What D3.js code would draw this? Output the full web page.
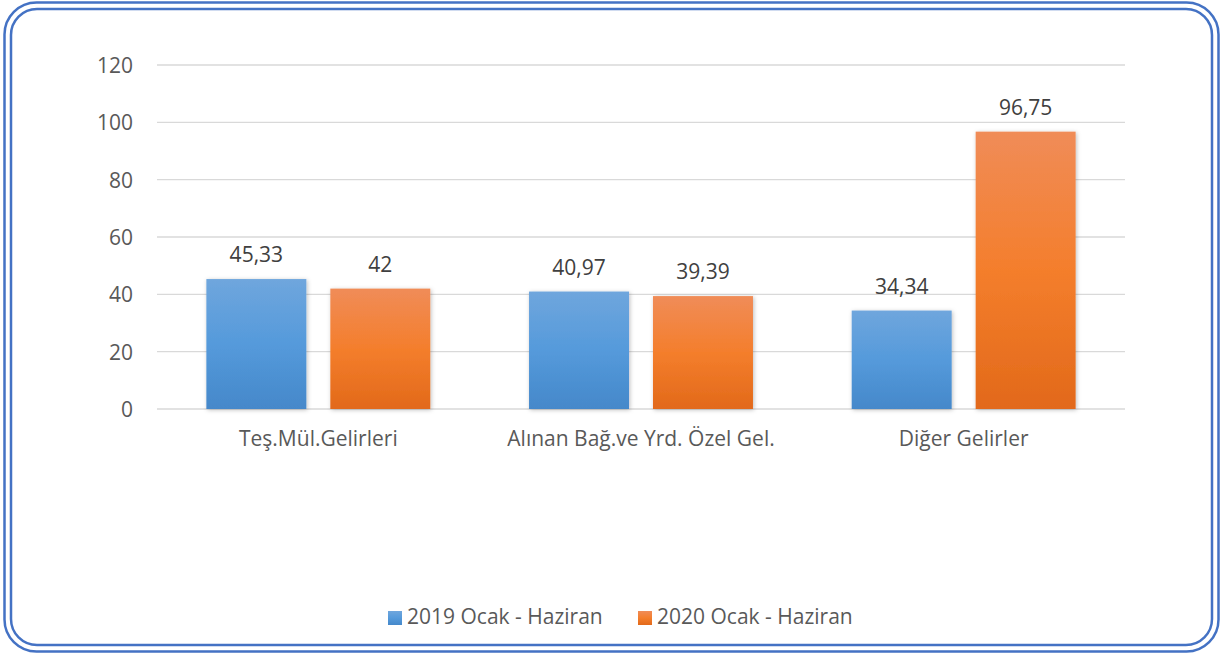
<!DOCTYPE html>
<html><head><meta charset="utf-8">
<script src="https://cdn.jsdelivr.net/npm/d3@7"></script>
<style>body{margin:0;background:#fff;}svg{display:block;}</style>
</head><body>
<svg id="c" width="1223" height="655" font-family="'Open Sans', sans-serif"></svg>
<script>
const categories = ["Teş.Mül.Gelirleri", "Alınan Bağ.ve Yrd. Özel Gel.", "Diğer Gelirler"];
const seriesNames = ["2019 Ocak - Haziran", "2020 Ocak - Haziran"];
const values2019 = [45.33, 40.97, 34.34];
const values2020 = [42, 39.39, 96.75];
const labels2019 = ["45,33", "40,97", "34,34"];
const labels2020 = ["42", "39,39", "96,75"];
const yTicks = [0, 20, 40, 60, 80, 100, 120];

const FONT = "'Open Sans', sans-serif";
const FS = 21;
const svg = d3.select("#c");
const defs = svg.append("defs");
const gradB = defs.append("linearGradient").attr("id","gB").attr("x1",0).attr("y1",0).attr("x2",0).attr("y2",1);
gradB.append("stop").attr("offset","0%").attr("stop-color","#6FA6DD");
gradB.append("stop").attr("offset","50%").attr("stop-color","#559ADB");
gradB.append("stop").attr("offset","100%").attr("stop-color","#4588CA");
const gradO = defs.append("linearGradient").attr("id","gO").attr("x1",0).attr("y1",0).attr("x2",0).attr("y2",1);
gradO.append("stop").attr("offset","0%").attr("stop-color","#F08C58");
gradO.append("stop").attr("offset","50%").attr("stop-color","#F47E2C");
gradO.append("stop").attr("offset","100%").attr("stop-color","#E2691A");
const sh = defs.append("filter").attr("id","sh").attr("x","-10%").attr("y","-10%").attr("width","130%").attr("height","130%");
sh.append("feDropShadow").attr("dx",1).attr("dy",1).attr("stdDeviation",2).attr("flood-color","#000").attr("flood-opacity",0.25);

// border
svg.append("rect").attr("x",4.5).attr("y",2.5).attr("width",1214).attr("height",649).attr("rx",32).attr("ry",32)
  .attr("fill","none").attr("stroke","#4472C4").attr("stroke-width",2.5);
svg.append("rect").attr("x",11).attr("y",9).attr("width",1201).attr("height",636).attr("rx",26).attr("ry",26)
  .attr("fill","none").attr("stroke","#4472C4").attr("stroke-width",2.5);

const x0 = d3.scaleBand().domain(categories).range([157,1125]).paddingInner(0.306).paddingOuter(0.153);
const x1 = d3.scaleBand().domain(seriesNames).range([0,x0.bandwidth()]).paddingInner(0.1935);
const y = d3.scaleLinear().domain([0,120]).range([409,65]);

const grid = svg.append("g");
grid.selectAll("line").data(yTicks).join("line")
  .attr("x1",157).attr("x2",1125).attr("y1",d=>y(d)).attr("y2",d=>y(d))
  .attr("stroke","#D9D9D9").attr("stroke-width",1.3);

const yAxis = svg.append("g").attr("transform","translate(133,0)")
  .call(d3.axisLeft(y).tickValues(yTicks).tickSize(0).tickPadding(0));
yAxis.attr("font-family",FONT).attr("font-size",FS);
yAxis.select(".domain").remove();
yAxis.selectAll("text").attr("fill","#595959").attr("dy","0.35em");

const xAxis = svg.append("g").attr("transform","translate(0,409)")
  .call(d3.axisBottom(x0).tickSize(0).tickPadding(22));
xAxis.attr("font-family",FONT).attr("font-size",FS);
xAxis.select(".domain").remove();
xAxis.selectAll("text").attr("fill","#595959");

const data = categories.map((c,i)=>({c, v:[
  {s:seriesNames[0], v:values2019[i], l:labels2019[i], f:"url(#gB)"},
  {s:seriesNames[1], v:values2020[i], l:labels2020[i], f:"url(#gO)"}]}));

const g = svg.selectAll("g.grp").data(data).join("g").attr("class","grp")
  .attr("transform",d=>`translate(${x0(d.c)},0)`);
g.selectAll("rect").data(d=>d.v).join("rect")
  .attr("x",d=>x1(d.s)).attr("width",x1.bandwidth())
  .attr("y",d=>y(d.v)).attr("height",d=>y(0)-y(d.v))
  .attr("fill",d=>d.f).attr("filter","url(#sh)");
g.selectAll("text").data(d=>d.v).join("text")
  .attr("x",d=>x1(d.s)+x1.bandwidth()/2).attr("y",d=>y(d.v)-17)
  .attr("text-anchor","middle").attr("font-size",FS).attr("fill","#404040").text(d=>d.l);

// legend
const leg = svg.append("g").attr("font-size",FS);
const legX = [388, 638];
const legColors = ["url(#gB)","url(#gO)"];
seriesNames.forEach((s,i)=>{
  leg.append("rect").attr("x",legX[i]).attr("y",611).attr("width",14).attr("height",14).attr("fill",legColors[i]);
  leg.append("text").attr("x",legX[i]+19).attr("y",624).attr("fill","#595959").text(s);
});
</script>
</body></html>
